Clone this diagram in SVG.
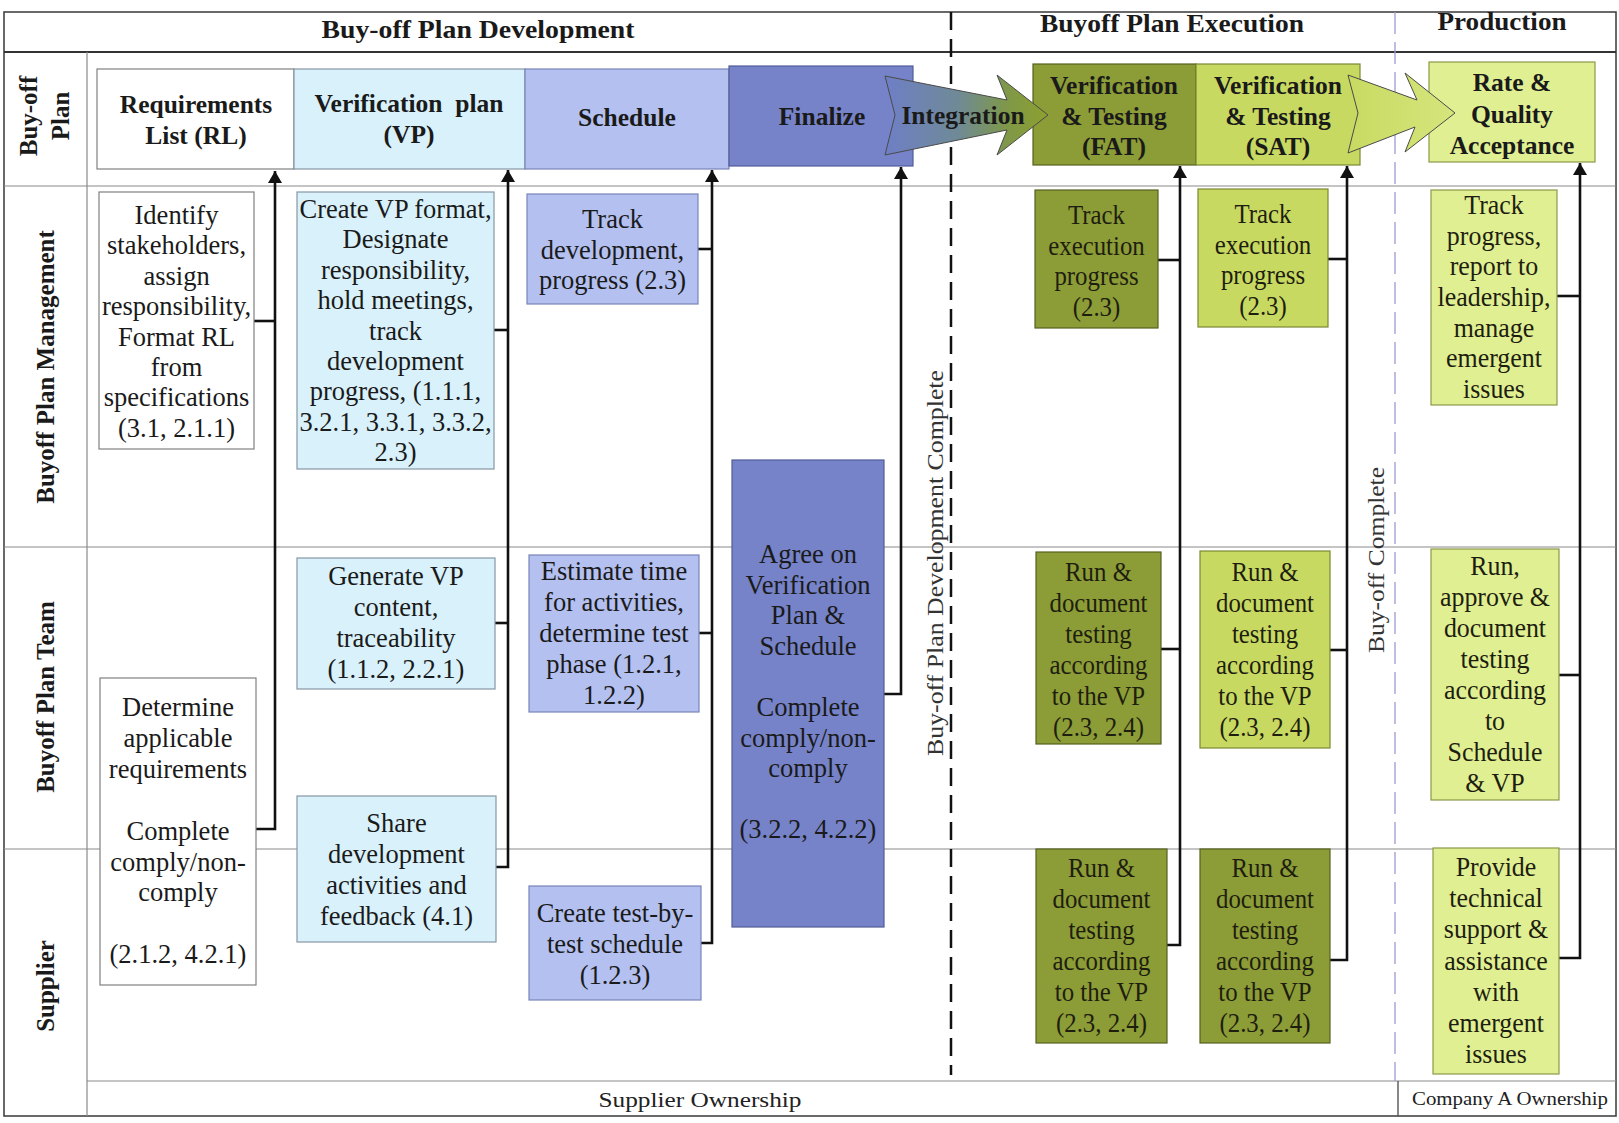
<svg xmlns="http://www.w3.org/2000/svg" width="1619" height="1123" viewBox="0 0 1619 1123">
  <style>
    .grid { stroke: #8a8a8a; stroke-width: 1.2; fill: none; }
    .frame { stroke: #444; stroke-width: 1.6; fill: none; }
    .hb { font-family: "Liberation Serif", "Times New Roman", serif; font-weight: bold; font-size: 25.5px; text-anchor: middle; fill: #1a1a1a; }
    .lane { font-family: "Liberation Serif", "Times New Roman", serif; font-weight: bold; font-size: 25px; text-anchor: middle; fill: #1a1a1a; }
    .tx { font-family: "Liberation Serif", "Times New Roman", serif; font-size: 26.5px; text-anchor: middle; fill: #1a1a1a; }
    .tg { font-family: "Liberation Serif", "Times New Roman", serif; font-size: 27px; text-anchor: middle; fill: #1e1e10; }
    .mile { font-family: "Liberation Serif", "Times New Roman", serif; font-size: 23px; text-anchor: middle; fill: #333; }
    .own { font-family: "Liberation Serif", "Times New Roman", serif; text-anchor: middle; fill: #222; }
    .b-white { fill: #ffffff; stroke: #808080; stroke-width: 1.2; }
    .b-cyan { fill: #d9f1fb; stroke: #8797a4; stroke-width: 1.2; }
    .b-peri { fill: #b3c0f0; stroke: #7a84b8; stroke-width: 1.2; }
    .b-slate { fill: #7683c9; stroke: #525c98; stroke-width: 1.2; }
    .b-olive { fill: #8c9c36; stroke: #56621f; stroke-width: 1.2; }
    .b-lime { fill: #c8d962; stroke: #7b8833; stroke-width: 1.2; }
    .b-pale { fill: #e0ef92; stroke: #8c984a; stroke-width: 1.2; }
    .conn { stroke: #111; stroke-width: 2.6; fill: none; }
    .chev { stroke: #4a4a4a; stroke-width: 1; }
  </style>
  <defs>
    <marker id="ah" viewBox="0 0 12 14" refX="12" refY="7" markerWidth="12" markerHeight="14" markerUnits="userSpaceOnUse" orient="auto">
      <path d="M0,0 L12,7 L0,14 z" fill="#111"/>
    </marker>
    <linearGradient id="gInteg" x1="0" y1="0" x2="1" y2="0">
      <stop offset="0" stop-color="#6e7fc6"/>
      <stop offset="0.45" stop-color="#6f8a96"/>
      <stop offset="0.75" stop-color="#7f9848"/>
      <stop offset="1" stop-color="#8da02e"/>
    </linearGradient>
    <linearGradient id="gProd" x1="0" y1="0" x2="1" y2="0">
      <stop offset="0" stop-color="#c9da62"/>
      <stop offset="1" stop-color="#d6e57c"/>
    </linearGradient>
  </defs>

  <rect x="0" y="0" width="1619" height="1123" fill="#fff"/>

  <!-- swimlane grid -->
  <g id="grid">
    <rect class="frame" x="4" y="12" width="1612" height="1104"/>
    <line x1="4" y1="52" x2="1616" y2="52" stroke="#333" stroke-width="2"/>
    <line class="grid" x1="4" y1="186" x2="1616" y2="186"/>
    <line class="grid" x1="4" y1="547" x2="1616" y2="547"/>
    <line class="grid" x1="4" y1="849" x2="1616" y2="849"/>
    <line class="grid" x1="87" y1="1081" x2="1616" y2="1081"/>
    <line class="grid" x1="87" y1="52" x2="87" y2="1116"/>
    <line x1="1398" y1="1081" x2="1398" y2="1116" stroke="#555" stroke-width="1.4"/>
  </g>

  <!-- phase boundaries -->
  <g id="phase-lines">
    <line x1="951" y1="12" x2="951" y2="1075" stroke="#111" stroke-width="2.5" stroke-dasharray="18 9"/>
    <line x1="1395" y1="12" x2="1395" y2="1081" stroke="#9c9cd4" stroke-width="1.3" stroke-dasharray="22 8"/>
  </g>

  <!-- phase headings -->
  <g id="headings">
    <text class="hb" x="478" y="38" textLength="313" lengthAdjust="spacingAndGlyphs">Buy-off Plan Development</text>
    <text class="hb" x="1172" y="32" textLength="264" lengthAdjust="spacingAndGlyphs">Buyoff Plan Execution</text>
    <text class="hb" x="1502" y="30" textLength="129" lengthAdjust="spacingAndGlyphs">Production</text>
  </g>

  <!-- lane labels -->
  <g id="lanes">
    <text class="lane" transform="translate(37,116) rotate(-90)">Buy-off</text>
    <text class="lane" transform="translate(69,116) rotate(-90)">Plan</text>
    <text class="lane" transform="translate(54,367) rotate(-90)">Buyoff Plan Management</text>
    <text class="lane" transform="translate(54,697) rotate(-90)">Buyoff Plan Team</text>
    <text class="lane" transform="translate(54,986) rotate(-90)">Supplier</text>
  </g>

  <!-- milestones -->
  <g id="milestones">
    <text class="mile" transform="translate(943,563) rotate(-90)" textLength="386" lengthAdjust="spacingAndGlyphs">Buy-off Plan Development Complete</text>
    <text class="mile" transform="translate(1384,560) rotate(-90)" textLength="186" lengthAdjust="spacingAndGlyphs">Buy-off Complete</text>
  </g>

  <!-- ownership -->
  <g id="ownership">
    <text class="own" x="700" y="1107" font-size="21" textLength="203" lengthAdjust="spacingAndGlyphs">Supplier Ownership</text>
    <text class="own" x="1510" y="1105" font-size="19" textLength="196" lengthAdjust="spacingAndGlyphs">Company A Ownership</text>
  </g>

  <!-- buy-off plan strip -->
  <g id="n-rl">
    <rect class="b-white" x="97" y="69" width="197" height="100"/>
    <text class="hb"><tspan x="196" y="113">Requirements</tspan><tspan x="196" y="144">List (RL)</tspan></text>
  </g>
  <g id="n-vp">
    <rect class="b-cyan" x="294" y="69" width="231" height="100"/>
    <text class="hb" style="white-space:pre"><tspan x="409" y="112">Verification  plan</tspan><tspan x="409" y="143">(VP)</tspan></text>
  </g>
  <g id="n-schedule">
    <rect class="b-peri" x="525" y="69" width="204" height="100"/>
    <text class="hb" x="627" y="126">Schedule</text>
  </g>
  <g id="n-finalize">
    <rect class="b-slate" x="729" y="66" width="184" height="100"/>
    <text class="hb" x="822" y="125">Finalize</text>
  </g>
  <g id="n-fat">
    <rect class="b-olive" x="1033" y="64" width="163" height="101"/>
    <text class="hb"><tspan x="1114" y="94">Verification</tspan><tspan x="1114" y="125">&amp; Testing</tspan><tspan x="1114" y="155">(FAT)</tspan></text>
  </g>
  <g id="n-sat">
    <rect class="b-lime" x="1196" y="64" width="164" height="101"/>
    <text class="hb"><tspan x="1278" y="94">Verification</tspan><tspan x="1278" y="125">&amp; Testing</tspan><tspan x="1278" y="155">(SAT)</tspan></text>
  </g>
  <g id="n-rate">
    <rect class="b-pale" x="1429" y="62" width="166" height="100"/>
    <text class="hb"><tspan x="1512" y="91">Rate &amp;</tspan><tspan x="1512" y="123">Quality</tspan><tspan x="1512" y="154">Acceptance</tspan></text>
  </g>
  <g id="n-integration">
    <polygon class="chev" fill="url(#gInteg)" points="885,76 1007,100 997,75 1048,115 997,155 1007,130 885,155 895,115"/>
    <text class="hb" x="963" y="124">Integration</text>
  </g>
  <g id="n-to-production">
    <polygon class="chev" fill="url(#gProd)" points="1348,75 1417,100 1405,73 1455,113 1405,152 1415,127 1348,153 1358,113"/>
  </g>

  <!-- connectors -->
  <g id="connectors">
    <path class="conn" d="M256,829 H275 V171" marker-end="url(#ah)"/>
    <path class="conn" d="M254,321 H275"/>
    <path class="conn" d="M496,867 H508 V170" marker-end="url(#ah)"/>
    <path class="conn" d="M494,330 H508"/>
    <path class="conn" d="M495,623 H508"/>
    <path class="conn" d="M701,943 H712 V170" marker-end="url(#ah)"/>
    <path class="conn" d="M698,249 H712"/>
    <path class="conn" d="M699,633 H712"/>
    <path class="conn" d="M884,694 H901 V167" marker-end="url(#ah)"/>
    <path class="conn" d="M1167,945 H1180 V166" marker-end="url(#ah)"/>
    <path class="conn" d="M1158,260 H1180"/>
    <path class="conn" d="M1161,649 H1180"/>
    <path class="conn" d="M1330,960 H1347 V166" marker-end="url(#ah)"/>
    <path class="conn" d="M1328,259 H1347"/>
    <path class="conn" d="M1330,650 H1347"/>
    <path class="conn" d="M1559,958 H1580 V163" marker-end="url(#ah)"/>
    <path class="conn" d="M1557,296 H1580"/>
    <path class="conn" d="M1559,675 H1580"/>
  </g>

  <!-- management lane -->
  <g id="n-identify">
    <rect class="b-white" x="99" y="192" width="155" height="257"/>
    <text class="tx"><tspan x="176.5" y="224">Identify</tspan><tspan x="176.5" y="254.4">stakeholders,</tspan><tspan x="176.5" y="284.8">assign</tspan><tspan x="176.5" y="315.2">responsibility,</tspan><tspan x="176.5" y="345.6">Format RL</tspan><tspan x="176.5" y="376">from</tspan><tspan x="176.5" y="406.4">specifications</tspan><tspan x="176.5" y="436.8">(3.1, 2.1.1)</tspan></text>
  </g>
  <g id="n-create-vp">
    <rect class="b-cyan" x="297" y="192" width="197" height="277"/>
    <text class="tx"><tspan x="395.5" y="218">Create VP format,</tspan><tspan x="395.5" y="248.4">Designate</tspan><tspan x="395.5" y="278.8">responsibility,</tspan><tspan x="395.5" y="309.2">hold meetings,</tspan><tspan x="395.5" y="339.6">track</tspan><tspan x="395.5" y="370">development</tspan><tspan x="395.5" y="400.4">progress, (1.1.1,</tspan><tspan x="395.5" y="430.8">3.2.1, 3.3.1, 3.3.2,</tspan><tspan x="395.5" y="461.2">2.3)</tspan></text>
  </g>
  <g id="n-track-dev">
    <rect class="b-peri" x="527" y="194" width="171" height="110"/>
    <text class="tx"><tspan x="612.5" y="228">Track</tspan><tspan x="612.5" y="259">development,</tspan><tspan x="612.5" y="289">progress (2.3)</tspan></text>
  </g>
  <g id="n-fat-track">
    <rect class="b-olive" x="1035" y="190" width="123" height="138"/>
    <g transform="translate(1096.5,0) scale(0.92,1) translate(-1096.5,0)">
      <text class="tg"><tspan x="1096.5" y="224">Track</tspan><tspan x="1096.5" y="254.7">execution</tspan><tspan x="1096.5" y="285.4">progress</tspan><tspan x="1096.5" y="316">(2.3)</tspan></text>
    </g>
  </g>
  <g id="n-sat-track">
    <rect class="b-lime" x="1198" y="189" width="130" height="138"/>
    <g transform="translate(1263,0) scale(0.92,1) translate(-1263,0)">
      <text class="tg"><tspan x="1263" y="223">Track</tspan><tspan x="1263" y="253.7">execution</tspan><tspan x="1263" y="284.4">progress</tspan><tspan x="1263" y="315">(2.3)</tspan></text>
    </g>
  </g>
  <g id="n-prod-track">
    <rect class="b-pale" x="1431" y="190" width="126" height="215"/>
    <g transform="translate(1494,0) scale(0.96,1) translate(-1494,0)">
      <text class="tg"><tspan x="1494" y="214">Track</tspan><tspan x="1494" y="244.7">progress,</tspan><tspan x="1494" y="275.4">report to</tspan><tspan x="1494" y="306.1">leadership,</tspan><tspan x="1494" y="336.8">manage</tspan><tspan x="1494" y="367.5">emergent</tspan><tspan x="1494" y="398">issues</tspan></text>
    </g>
  </g>

  <!-- team lane -->
  <g id="n-generate">
    <rect class="b-cyan" x="297" y="558" width="198" height="131"/>
    <text class="tx"><tspan x="396" y="585">Generate VP</tspan><tspan x="396" y="616">content,</tspan><tspan x="396" y="647">traceability</tspan><tspan x="396" y="678">(1.1.2, 2.2.1)</tspan></text>
  </g>
  <g id="n-estimate">
    <rect class="b-peri" x="529" y="555" width="170" height="157"/>
    <text class="tx"><tspan x="614" y="580">Estimate time</tspan><tspan x="614" y="611">for activities,</tspan><tspan x="614" y="642">determine test</tspan><tspan x="614" y="673">phase (1.2.1,</tspan><tspan x="614" y="704">1.2.2)</tspan></text>
  </g>
  <g id="n-agree">
    <rect class="b-slate" x="732" y="460" width="152" height="467"/>
    <text class="tx" font-size="25.5"><tspan x="808" y="563">Agree on</tspan><tspan x="808" y="593.6">Verification</tspan><tspan x="808" y="624.2">Plan &amp;</tspan><tspan x="808" y="654.8">Schedule</tspan><tspan x="808" y="716">Complete</tspan><tspan x="808" y="746.6">comply/non-</tspan><tspan x="808" y="777.2">comply</tspan><tspan x="808" y="838.4">(3.2.2, 4.2.2)</tspan></text>
  </g>
  <g id="n-determine">
    <rect class="b-white" x="100" y="678" width="156" height="307"/>
    <text class="tx"><tspan x="178" y="716">Determine</tspan><tspan x="178" y="746.9">applicable</tspan><tspan x="178" y="777.8">requirements</tspan><tspan x="178" y="839.6">Complete</tspan><tspan x="178" y="870.5">comply/non-</tspan><tspan x="178" y="901.4">comply</tspan><tspan x="178" y="963.2">(2.1.2, 4.2.1)</tspan></text>
  </g>
  <g id="n-fat-run">
    <rect class="b-olive" x="1036" y="552" width="125" height="192"/>
    <g transform="translate(1098.5,0) scale(0.92,1) translate(-1098.5,0)">
      <text class="tg"><tspan x="1098.5" y="581">Run &amp;</tspan><tspan x="1098.5" y="612">document</tspan><tspan x="1098.5" y="643">testing</tspan><tspan x="1098.5" y="674">according</tspan><tspan x="1098.5" y="705">to the VP</tspan><tspan x="1098.5" y="736">(2.3, 2.4)</tspan></text>
    </g>
  </g>
  <g id="n-sat-run">
    <rect class="b-lime" x="1200" y="551" width="130" height="197"/>
    <g transform="translate(1265,0) scale(0.92,1) translate(-1265,0)">
      <text class="tg"><tspan x="1265" y="581">Run &amp;</tspan><tspan x="1265" y="612">document</tspan><tspan x="1265" y="643">testing</tspan><tspan x="1265" y="674">according</tspan><tspan x="1265" y="705">to the VP</tspan><tspan x="1265" y="736">(2.3, 2.4)</tspan></text>
    </g>
  </g>
  <g id="n-prod-run">
    <rect class="b-pale" x="1431" y="549" width="128" height="251"/>
    <g transform="translate(1495,0) scale(0.96,1) translate(-1495,0)">
      <text class="tg"><tspan x="1495" y="575">Run,</tspan><tspan x="1495" y="606">approve &amp;</tspan><tspan x="1495" y="637">document</tspan><tspan x="1495" y="668">testing</tspan><tspan x="1495" y="699">according</tspan><tspan x="1495" y="730">to</tspan><tspan x="1495" y="761">Schedule</tspan><tspan x="1495" y="792">&amp; VP</tspan></text>
    </g>
  </g>

  <!-- supplier lane -->
  <g id="n-share">
    <rect class="b-cyan" x="297" y="796" width="199" height="146"/>
    <text class="tx"><tspan x="396.5" y="832">Share</tspan><tspan x="396.5" y="863">development</tspan><tspan x="396.5" y="894">activities and</tspan><tspan x="396.5" y="925">feedback (4.1)</tspan></text>
  </g>
  <g id="n-test-schedule">
    <rect class="b-peri" x="529" y="886" width="172" height="114"/>
    <text class="tx"><tspan x="615" y="922">Create test-by-</tspan><tspan x="615" y="953">test schedule</tspan><tspan x="615" y="984">(1.2.3)</tspan></text>
  </g>
  <g id="n-fat-sup">
    <rect class="b-olive" x="1036" y="849" width="131" height="194"/>
    <g transform="translate(1101.5,0) scale(0.92,1) translate(-1101.5,0)">
      <text class="tg"><tspan x="1101.5" y="877">Run &amp;</tspan><tspan x="1101.5" y="908">document</tspan><tspan x="1101.5" y="939">testing</tspan><tspan x="1101.5" y="970">according</tspan><tspan x="1101.5" y="1001">to the VP</tspan><tspan x="1101.5" y="1032">(2.3, 2.4)</tspan></text>
    </g>
  </g>
  <g id="n-sat-sup">
    <rect class="b-olive" x="1200" y="849" width="130" height="194"/>
    <g transform="translate(1265,0) scale(0.92,1) translate(-1265,0)">
      <text class="tg"><tspan x="1265" y="877">Run &amp;</tspan><tspan x="1265" y="908">document</tspan><tspan x="1265" y="939">testing</tspan><tspan x="1265" y="970">according</tspan><tspan x="1265" y="1001">to the VP</tspan><tspan x="1265" y="1032">(2.3, 2.4)</tspan></text>
    </g>
  </g>
  <g id="n-provide">
    <rect class="b-pale" x="1433" y="848" width="126" height="226"/>
    <g transform="translate(1496,0) scale(0.96,1) translate(-1496,0)">
      <text class="tg"><tspan x="1496" y="876">Provide</tspan><tspan x="1496" y="907.2">technical</tspan><tspan x="1496" y="938.4">support &amp;</tspan><tspan x="1496" y="969.6">assistance</tspan><tspan x="1496" y="1000.8">with</tspan><tspan x="1496" y="1032">emergent</tspan><tspan x="1496" y="1063">issues</tspan></text>
    </g>
  </g>
</svg>
